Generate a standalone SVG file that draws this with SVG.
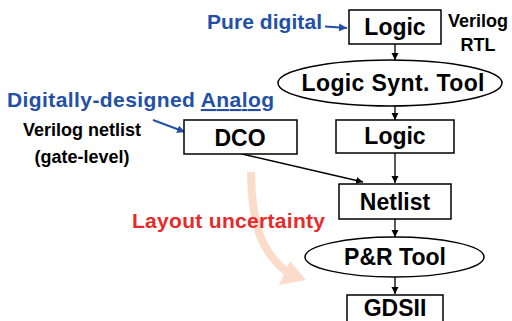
<svg xmlns="http://www.w3.org/2000/svg" width="512" height="321" viewBox="0 0 512 321">
<defs>
<style>
text{font-family:"Liberation Sans",Arial,sans-serif;font-weight:bold}
.box{fill:#fff;stroke:#000;stroke-width:1.5}
.n{font-size:23px;fill:#000;text-anchor:middle}
.s{font-size:18px;fill:#000;text-anchor:middle}
.b{font-size:21px;fill:#2350a6}
.k{stroke:#000;stroke-width:1.3;fill:none}
.bl{stroke:#2350a6;stroke-width:2;fill:none}
</style>
<marker id="ak" markerWidth="8" markerHeight="8" refX="7" refY="4" orient="auto" markerUnits="userSpaceOnUse"><path d="M0,0.5 L7,4 L0,7.5 z" fill="#000"/></marker>
<marker id="ab" markerWidth="9" markerHeight="9" refX="8" refY="4.5" orient="auto" markerUnits="userSpaceOnUse"><path d="M0,0.5 L8,4.5 L0,8.5 z" fill="#2350a6"/></marker>
</defs>
<rect width="512" height="321" fill="#fff"/>

<g id="uncertainty-arrow">
<path d="M251,172 C252,228 262,252 287,272" stroke="#fbdccb" stroke-width="8" fill="none"/>
<path d="M279,285 L290,261 L306,280 z" fill="#fbdccb"/>
</g>

<g id="connectors">
<path class="k" d="M395,44 V60" marker-end="url(#ak)"/>
<path class="k" d="M395,106 V120" marker-end="url(#ak)"/>
<path class="k" d="M395,153 V183" marker-end="url(#ak)"/>
<path class="k" d="M242,154 L363,182" marker-end="url(#ak)"/>
<path class="k" d="M395,219 V237" marker-end="url(#ak)"/>
<path class="k" d="M395,277 V294" marker-end="url(#ak)"/>
<path class="bl" d="M325,26.5 L347,28" marker-end="url(#ab)"/>
<path class="bl" d="M153,120 L185,132" marker-end="url(#ab)"/>
</g>

<g id="logic1">
<rect class="box" x="349" y="10" width="92" height="34"/>
<text class="n" x="395" y="35">Logic</text>
</g>
<g id="verilog-rtl">
<text class="s" x="478" y="27">Verilog</text>
<text class="s" x="478" y="51">RTL</text>
</g>
<g id="pure-digital">
<text class="b" x="207" y="29" textLength="115">Pure digital</text>
</g>
<g id="logic-synt">
<ellipse cx="390" cy="83" rx="112" ry="23" fill="#fff" stroke="#000" stroke-width="1.5"/>
<text class="n" x="393" y="91" textLength="183">Logic Synt. Tool</text>
</g>
<g id="dda">
<text class="b" x="7" y="107" textLength="267">Digitally-designed <tspan text-decoration="underline">Analog</tspan></text>
</g>
<g id="verilog-netlist">
<text class="s" x="82" y="136">Verilog netlist</text>
<text class="s" x="82" y="163">(gate-level)</text>
</g>
<g id="dco">
<rect class="box" x="184" y="120" width="113" height="34"/>
<text class="n" x="240" y="146">DCO</text>
</g>
<g id="logic2">
<rect class="box" x="336" y="120" width="118" height="33"/>
<text class="n" x="395" y="144">Logic</text>
</g>
<g id="netlist">
<rect class="box" x="339" y="184" width="112" height="35"/>
<text class="n" x="395" y="210">Netlist</text>
</g>
<g id="layout-uncertainty">
<text x="132" y="228" font-size="21" fill="#e82a2a" textLength="193">Layout uncertainty</text>
</g>
<g id="pr">
<ellipse cx="394.5" cy="257" rx="89.5" ry="20" fill="#fff" stroke="#000" stroke-width="1.5"/>
<text class="n" x="395" y="265">P&amp;R Tool</text>
</g>
<g id="gdsii">
<rect class="box" x="347" y="295" width="96" height="40"/>
<text class="n" x="395" y="316" font-size="22">GDSII</text>
</g>
</svg>
